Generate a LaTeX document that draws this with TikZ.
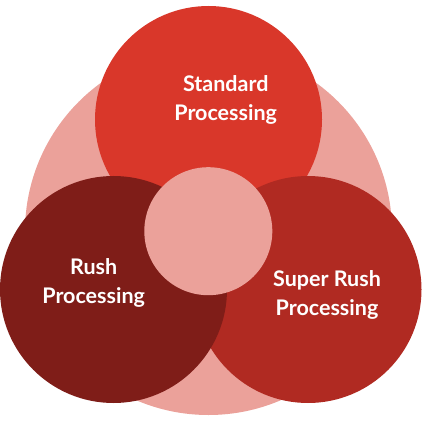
\documentclass[tikz,border=0pt]{standalone}
\usepackage{fontspec}
\setmainfont{Lato}
\definecolor{cpink}{HTML}{EBA19A}
\definecolor{cstd}{HTML}{D9372A}
\definecolor{crush}{HTML}{7F1D18}
\definecolor{csuper}{HTML}{B02A22}
\tikzset{
  disc/.style={circle, inner sep=0pt, outer sep=0pt, draw=none},
  lbl/.style={text=white, font=\bfseries\fontsize{21.5}{25}\selectfont, anchor=base, inner sep=0pt}
}
\begin{document}
\begin{tikzpicture}[x=1pt,y=-1pt]
\useasboundingbox (0,0) rectangle (427,427);
\node[disc, fill=cpink, minimum size=367pt] (big) at (208.5,231.5) {};
\node[disc, fill=cstd, minimum size=227pt] (std) at (208.5,119.5) {};
\node[disc, fill=csuper, minimum size=227pt] (super) at (308,289.5) {};
\node[disc, fill=crush, minimum size=227pt] (rush) at (113.5,289.5) {};
\node[disc, fill=cpink, minimum size=128pt] (core) at (208.3,231.2) {};
\node[lbl] (std1) at (225.7,91.7) {Standard};
\node[lbl] (std2) at (225.7,121) {Processing};
\node[lbl] (rush1) at (93.7,274) {Rush};
\node[lbl] (rush2) at (93.7,303) {Processing};
\node[lbl] (sup1) at (327,286) {Super Rush};
\node[lbl] (sup2) at (327,315) {Processing};
\end{tikzpicture}
\end{document}
